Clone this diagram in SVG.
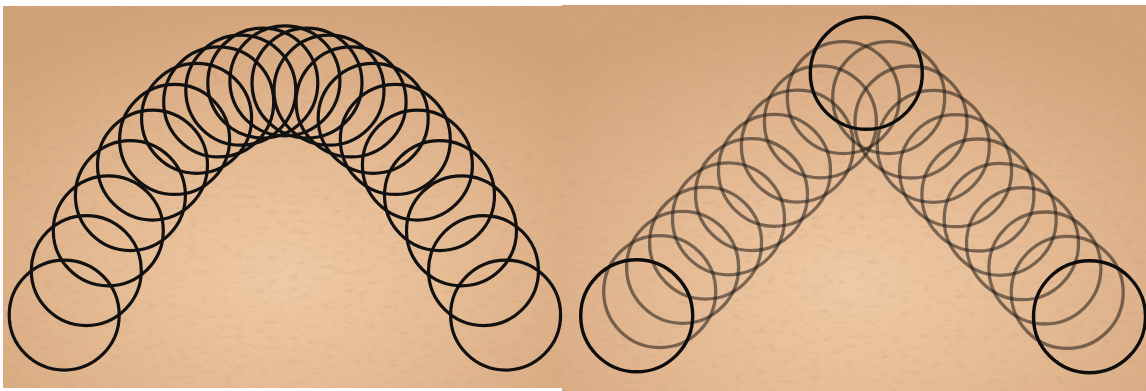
<svg xmlns="http://www.w3.org/2000/svg" width="1146" height="391" viewBox="0 0 1146 391">
  <defs>
    <radialGradient id="paperL" cx="0.5" cy="0.7" r="0.75">
      <stop offset="0" stop-color="#efcaa6"/>
      <stop offset="0.5" stop-color="#e3b890"/>
      <stop offset="1" stop-color="#d1a179"/>
    </radialGradient>
    <radialGradient id="paperR" cx="0.5" cy="0.72" r="0.75">
      <stop offset="0" stop-color="#efcaa6"/>
      <stop offset="0.5" stop-color="#e3b891"/>
      <stop offset="1" stop-color="#d2a27a"/>
    </radialGradient>
    <filter id="grain" x="0" y="0" width="100%" height="100%">
      <feTurbulence type="fractalNoise" baseFrequency="0.09 0.2" numOctaves="3" seed="7"/>
      <feColorMatrix type="matrix" values="0 0 0 0 0.5  0 0 0 0 0.33  0 0 0 0 0.18  2.2 0 0 0 -1.15"/>
    </filter>
    <clipPath id="clipR"><rect x="562" y="5" width="584" height="386"/></clipPath>
    <style>
      .ring { fill: none; stroke: #111; stroke-width: 3.2; }
      .ghost { fill: none; stroke: #1e1a16; stroke-opacity: 0.55; stroke-width: 3.3; }
      .key { fill: none; stroke: #0d0d0d; stroke-width: 3.4; }
    </style>
  </defs>

  <rect width="1146" height="391" fill="#ffffff"/>

  <!-- left panel background -->
  <g id="panel-left-bg">
    <rect x="3" y="6" width="559" height="382" fill="url(#paperL)"/>
    <rect x="3" y="6" width="559" height="382" filter="url(#grain)" opacity="0.3"/>
  </g>
  <!-- right panel background -->
  <g id="panel-right-bg">
    <rect x="562" y="5" width="584" height="386" fill="url(#paperR)"/>
    <rect x="562" y="5" width="584" height="386" filter="url(#grain)" opacity="0.3"/>
  </g>

  <!-- left panel: arc of circles (parabolic path) -->
  <g id="arc-circles">
    <circle class="ring" cx="64.2" cy="315.1" r="55"/>
    <circle class="ring" cx="86.3" cy="270.6" r="55"/>
    <circle class="ring" cx="108.3" cy="230.8" r="55"/>
    <circle class="ring" cx="130.4" cy="195.6" r="55"/>
    <circle class="ring" cx="152.5" cy="165.1" r="55"/>
    <circle class="ring" cx="174.6" cy="139.4" r="55"/>
    <circle class="ring" cx="196.6" cy="118.3" r="55"/>
    <circle class="ring" cx="218.7" cy="101.9" r="55"/>
    <circle class="ring" cx="240.8" cy="90.2" r="55"/>
    <circle class="ring" cx="262.8" cy="83.1" r="55"/>
    <circle class="ring" cx="284.9" cy="80.8" r="55"/>
    <circle class="ring" cx="307.0" cy="83.1" r="55"/>
    <circle class="ring" cx="329.0" cy="90.2" r="55"/>
    <circle class="ring" cx="351.1" cy="101.9" r="55"/>
    <circle class="ring" cx="373.2" cy="118.3" r="55"/>
    <circle class="ring" cx="395.3" cy="139.4" r="55"/>
    <circle class="ring" cx="417.4" cy="165.1" r="55"/>
    <circle class="ring" cx="439.5" cy="195.6" r="55"/>
    <circle class="ring" cx="461.5" cy="230.8" r="55"/>
    <circle class="ring" cx="483.5" cy="270.6" r="55"/>
    <circle class="ring" cx="505.6" cy="315.1" r="55"/>
  </g>

  <!-- right panel: straight-line paths with ghost circles -->
  <g id="v-circles" clip-path="url(#clipR)">
    <g id="ghosts-left">
      <circle class="ghost" cx="659.7" cy="291.6" r="56"/>
      <circle class="ghost" cx="682.6" cy="267.3" r="56"/>
      <circle class="ghost" cx="705.6" cy="243.1" r="56"/>
      <circle class="ghost" cx="728.5" cy="218.8" r="56"/>
      <circle class="ghost" cx="751.5" cy="194.6" r="56"/>
      <circle class="ghost" cx="774.5" cy="170.3" r="56"/>
      <circle class="ghost" cx="797.4" cy="146.1" r="56"/>
      <circle class="ghost" cx="820.4" cy="121.8" r="56"/>
      <circle class="ghost" cx="843.3" cy="97.6" r="56"/>
    </g>
    <g id="ghosts-right">
      <circle class="ghost" cx="1067.2" cy="292.4" r="56"/>
      <circle class="ghost" cx="1044.9" cy="268.0" r="56"/>
      <circle class="ghost" cx="1022.5" cy="243.7" r="56"/>
      <circle class="ghost" cx="1000.2" cy="219.3" r="56"/>
      <circle class="ghost" cx="977.9" cy="195.0" r="56"/>
      <circle class="ghost" cx="955.6" cy="170.7" r="56"/>
      <circle class="ghost" cx="933.3" cy="146.3" r="56"/>
      <circle class="ghost" cx="911.0" cy="122.0" r="56"/>
      <circle class="ghost" cx="888.7" cy="97.6" r="56"/>
    </g>
    <g id="key-start"><circle class="key" cx="636.7" cy="315.8" r="56"/></g>
    <g id="key-apex"><circle class="key" cx="866.3" cy="73.3" r="56"/></g>
    <g id="key-end"><circle class="key" cx="1089.5" cy="316.7" r="56"/></g>
  </g>
</svg>
